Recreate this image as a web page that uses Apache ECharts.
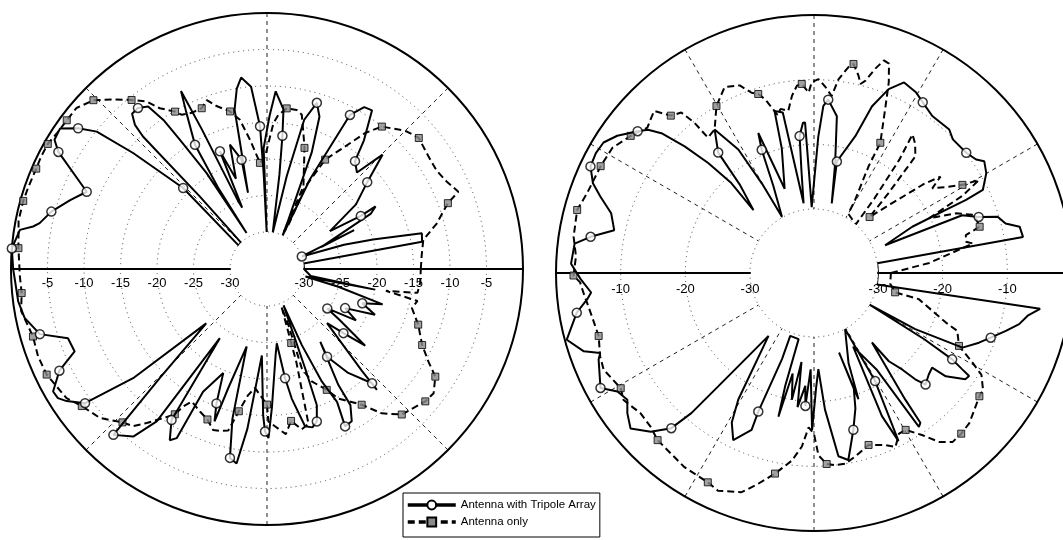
<!DOCTYPE html>
<html>
<head>
<meta charset="utf-8">
<script src="https://cdn.jsdelivr.net/npm/echarts@6/dist/echarts.min.js"></script>
<style>html,body{margin:0;padding:0;background:#fff}#c{width:1063px;height:540px}</style>
</head>
<body>
<div id="c"></div>
<script>
// Each point: [angle (deg, CCW from east), level dB, marker flag]
const leftTri = [[0,-30],[8.5,-30],[10,-13.5],[13,-13.3],[15.5,-20],[17.5,-24],[19.8,-30,1],[24,-22],[22,-27],[28,-19],[30,-17.9],[29.5,-20.3,1],[31,-25],[36,-20],[40.9,-16.9,1],[44.7,-12.8],[47,-17],[50.8,-16,1],[53,-13],[56.5,-9],[59,-9.2],[61.7,-11.1,1],[64.4,-21.4],[65,-30],[66.5,-27.7],[69,-18],[71,-13],[73.3,-11.3,1],[76,-14],[78,-22],[81,-30],[82.5,-22],[83.4,-16.7,1],[84.1,-13.1],[87.2,-10.7],[89,-14],[91.6,-18.5],[90.5,-30],[92,-22],[92.8,-15.5,1],[95,-10],[97.7,-8.6],[99.5,-10],[101.5,-12.8],[102,-17],[104,-24.3],[103.1,-19.7,1],[106.6,-17.3],[109,-22],[111.8,-17.7,1],[112,-26],[113,-25],[115,-14],[115.8,-8],[117.3,-11],[120.1,-15.4,1],[121,-22],[119.6,-29.4],[122.2,-19.5],[124,-13.7],[124.8,-10.2],[126.2,-7.5],[128.7,-6.8,1],[131,-6.9],[132.5,-8.3],[133.1,-10.2],[132.8,-21.5],[134.6,-30],[140.4,-30],[136,-19.1,1],[139.1,-10.8],[141.1,-5.1],[143.3,-2.8,1],[145.8,-0.8],[148.7,-1],[150.7,-2.3,1],[156.8,-8.2,1],[160.7,-6.5],[165.1,-4.5,1],[168.6,-3.3],[169.7,-2.5],[171,-0.8],[175.4,0,1],[180,-0.3],[187.4,-0.7],[191.4,-1.2],[196,-2.7,1],[199.2,-6.2],[203.2,-6.4],[206.1,-3.4,1],[209.8,-1.3],[211.7,-1.4],[213.4,-2.2],[216.4,-4.1,1],[219.2,-11.4],[221.8,-23.9],[225.5,-14.1],[227.2,-4.1,1],[231.4,-5.7],[234.1,-9.3],[235.7,-23.6],[237.7,-10.6,1],[240.4,-8.1],[241.9,-8.8],[242.5,-16.1],[247.2,-19.6],[249.4,-15.4,1],[251,-13],[252,-18],[255.3,-24.1],[257,-14],[258.9,-8.7,1],[261.1,-8.1],[263,-13],[266.6,-23.2],[268.5,-15],[269.3,-12.8,1],[270.5,-11.9],[272,-16],[275.7,-23.2],[277.5,-24.8],[279.4,-19.9,1],[280.8,-17],[283.6,-12.9],[286,-12.5],[288.1,-13.1,1],[290.1,-15.2],[291,-20.5],[294.5,-29.6],[294.6,-23.6],[296,-17.9],[297.8,-14.5],[296.4,-11,1],[299.1,-11.2],[301.5,-13.2],[301.6,-16.4],[306.2,-22.7],[304.4,-20.5,1],[308,-17],[312.6,-13.8,1],[312.3,-12.7],[313,-16],[318,-24],[320,-21.4,1],[322,-18],[325,-23],[326.8,-25.2,1],[330,-21],[333.4,-23.1,1],[337,-19],[340.2,-21.2,1],[343,-18.5],[346,-25],[349,-29.7],[349.2,-20],[351,-29],[360,-30]];

const leftOnly = [[0,-14],[5,-13.8],[10.5,-13.3],[15,-11],[20,-8.7,1],[22,-6.8],[26,-7.7],[30,-8.2],[35,-8.1],[40.8,-7.6,1],[44.5,-8.2],[46.3,-8.7],[51.1,-10,1],[54.2,-12.1],[57.5,-15.2],[62,-18.1,1],[65,-22.6],[64,-28.5],[65.5,-29.5],[66.2,-22.7],[72.8,-17.7,1],[75,-15.8],[77.3,-13.4],[79.4,-12.9],[83,-12.9,1],[85.8,-13.9],[87.5,-15.1],[91,-19.7],[93.8,-20.5,1],[97.5,-17.2],[100.3,-14.3],[103.2,-12.9,1],[107.2,-11.7],[109.6,-10.5],[112.1,-11.3,1],[116,-11.3],[119,-10.9],[120.3,-10.1,1],[123.7,-8.6],[125.7,-6.8],[128.7,-5.4,1],[132.2,-3.7],[135.8,-1.9,1],[139.8,-0.9],[143.4,-0.9,1],[147.2,-0.8],[150.3,-0.5,1],[153.7,-0.5],[156.5,-0.6,1],[161.1,-0.5],[164.4,-0.4,1],[169,-0.4],[175.2,-0.9,1],[181.7,-1.2],[185.6,-1.3,1],[189.7,-0.9],[196.1,-1.7,1],[200.9,-1.5],[205.6,-1.6,1],[208.6,-2],[212.8,-2.4],[216.5,-3.5,1],[221.7,-4.4],[226.7,-6.2,1],[229.6,-6.8],[232,-8.3],[235.2,-10.2],[237.6,-11.5,1],[238.6,-13],[240.4,-14.2],[244.8,-13.5],[248.4,-12.9,1],[251.5,-11.8],[254,-12],[256.5,-12.3],[258.8,-15.2,1],[261.5,-17.6],[264.2,-18.7],[270,-16.5,1],[270.5,-14.2],[272.9,-13.5],[276.5,-12.3],[279,-14,1],[282.2,-12.6],[285,-13.1],[287.5,-21.7],[288.1,-24.4,1],[291,-29.5],[290.9,-26.8],[289.3,-20.6],[291.7,-18.5],[296.3,-16.6,1],[298.9,-14.8],[301.6,-13.8],[304.9,-12.4,1],[308.5,-9.8],[312.8,-7.9,1],[320.1,-6.8,1],[323.3,-6.6],[327.4,-7.7,1],[330.2,-9.6],[333.9,-11.4,1],[339.8,-13,1],[344.9,-14.5],[348,-14],[349.6,-18.5],[351,-14.2],[355,-14],[360,-14]];

const rightTri = [[0,-30],[8.7,-30],[9.8,-7.1],[12.7,-7.3],[14.5,-9.3],[17,-10.2],[18.8,-13,1],[21.3,-15.3],[21.3,-28.1],[25.2,-23.1],[25.6,-17.3],[25.7,-13.8],[26.2,-10.8],[30.1,-9.1],[33.3,-8.4],[35,-9.3],[38.3,-9.9,1],[43.9,-10.1],[46.7,-9.4],[53,-9.5],[57.5,-8.6,1],[60.6,-7.8],[64.7,-7.3],[67.9,-9.2],[70.8,-12.6],[73.2,-17.8],[78.4,-22.3,1],[75.7,-28.8],[79.1,-22.6],[81.7,-15.4],[85.3,-13,1],[86.8,-14],[88.2,-18.8],[92,-29.7],[93.4,-16.6],[94.2,-16.6],[96,-18.6,1],[97,-24],[98.5,-29],[101,-14.6],[103.7,-14.1],[104.5,-20],[109.2,-26.1],[111.7,-16.6],[113,-19.2,1],[115,-25],[119.7,-29.9],[120.2,-23.9],[121.5,-17.5],[124.7,-12.9],[128.5,-16.1,1],[130,-22],[133.9,-26.4],[132.6,-21],[133.9,-16.3],[135.6,-11.9],[137.5,-7.9],[139.2,-6],[141.2,-4.9,1],[145.1,-2.8],[148.2,-1.6],[151.2,-1.4],[154.5,-1.6,1],[157.9,-3],[160.3,-4.8],[163.6,-7.2],[167.9,-8.3],[170.8,-4.9,1],[173,-2.6],[177.8,-2.3],[181.5,-3.8],[185,-5.3],[186.6,-4.6],[189.5,-2.7,1],[195.1,-0.3],[198.8,-2.3],[200.5,-4.6],[201.9,-4],[208.3,-2.4,1],[211.1,-4.4],[214.2,-5],[216.9,-3.8],[220.3,-2.7],[224.2,-4.7],[227.4,-7.3,1],[228.8,-11.1],[229.8,-17],[234.1,-27.9],[239.1,-17.1],[241.2,-13.5],[244.2,-11.2],[248.3,-13.8],[248.1,-16.8,1],[249.6,-25.7],[249.3,-29.5],[256.9,-29.4],[255.7,-21.9],[256.1,-17],[258,-24],[260.1,-20],[262,-26],[263,-19],[265.6,-22.4],[266.3,-19.3,1],[268,-25],[269.3,-15.6],[271,-22],[272.6,-25],[274.6,-18.7],[277.6,-11.3],[280.4,-10.5],[284.1,-14.9,1],[287,-18],[289,-21],[287.5,-27],[289.4,-19.2],[291,-25],[299,-30],[299.5,-20.7,1],[296.7,-10.8],[295.4,-15.4],[298,-27],[303,-22],[304.3,-11.1],[305.4,-11.5],[305.8,-15.8],[309.8,-25.9],[310.3,-22],[312.4,-19.7],[313.6,-17.2],[315,-15.5,1],[318.5,-16.2],[321.3,-16.5],[321.9,-14],[324.9,-11.3],[326.4,-11.1],[327,-12.6],[328,-14.7,1],[329,-20],[330.3,-30],[331,-22],[333.3,-14.2],[337.1,-12.2],[339.9,-10.8,1],[343.2,-8.9],[346,-7.2],[348.7,-6.2],[351,-4.5],[349.7,-30],[360,-30]];

const rightOnly = [[0,-28],[5,-22],[10.5,-14.9],[11.6,-15.9],[14,-15.7],[15.6,-13.3,1],[19.9,-13.5],[22.8,-16.1],[25.4,-20.2],[27.5,-14],[29.4,-10.6],[30.7,-13.2,1],[33,-15.5],[35.6,-17.4],[37.3,-15.3],[39,-18],[42,-24],[45.2,-27.7,1],[47,-23],[49,-16],[52,-14.5],[54.6,-13.6],[53,-18],[51,-25],[49.3,-30],[60,-29.3],[60.6,-27],[62.9,-21.4],[63,-17.3,1],[66.8,-11.8],[68.6,-8.2],[70.3,-5.5],[71.8,-5.3],[73.3,-6.9],[75,-9.1],[76.2,-9.8],[77.3,-8.6],[79.3,-7,1],[80.5,-7.6],[82.8,-9.7],[84.3,-12.4],[86.6,-11],[88.7,-9.9],[90.7,-10.4],[91.7,-12],[93.7,-10.6,1],[95.2,-10.8],[97.1,-12.3],[99,-14.5],[101.5,-14],[103,-14.8],[105.7,-12],[107.3,-10.9,1],[109.1,-10.4],[111.6,-8.7],[115.7,-8],[120.3,-10,1],[124.7,-12.9],[128.1,-13.3],[128.5,-10.2],[129.6,-7.7],[132.3,-7,1],[134.6,-4.7],[136.7,-5.2],[138.9,-5.7],[143.2,-4.5,1],[148.2,-3.2],[153.4,-3,1],[160.6,-2.7],[165.1,-2,1],[171.4,-2.3],[176,-3],[180.6,-2.7,1],[182.3,-3.7],[184.8,-4.1],[191,-4.9],[196.3,-5.2,1],[201.3,-4.4],[204.7,-4.1],[210.8,-5.1,1],[213.7,-4.5],[219,-5.4],[223.3,-5.2],[226.9,-4.5,1],[236.3,-3.8],[243.1,-3.6,1],[246.2,-3.1],[251.7,-4.2],[254.7,-5.9],[259,-8.3,1],[263.3,-10.7],[266,-13],[268,-16],[270,-15],[271.4,-11.7],[273.8,-10.3,1],[276.3,-10],[279.3,-10],[282.6,-10.8],[287.6,-12,1],[292.5,-11.1],[295.1,-10.2],[297.9,-11.8],[300.3,-11.8,1],[303.8,-9.7],[306.5,-7.4],[309.4,-6.1],[312.5,-6.2,1],[316,-6.5],[319.5,-7.3],[323.3,-8,1],[325.3,-8.1],[328.7,-9.6],[330.5,-11.7],[333.3,-14.8,1],[338,-16],[339.4,-18.1],[346,-23.2],[346.6,-27,1],[352,-28],[360,-28]];

const leftTicks = [-30, -25, -20, -15, -10, -5, 0];
const rightTicks = [-30, -20, -10, 0];
const names = ['Antenna with Tripole Array', 'Antenna only'];

const chart = echarts.init(document.getElementById('c'), null, {renderer: 'canvas'});
const FONT = 'Liberation Sans, Arial, sans-serif';
const LC = [267, 269], LR = [37, 256];
const RC = [814, 273], RR = [64, 258];

function toVal(pts){ return pts.map(p => [p[1], p[0]]); }
function marks(pts){ return pts.filter(p => p[2]).map(p => [p[1], p[0]]); }

function angleAx(idx, start, interval, spokes, ring){
  return {polarIndex: idx, type: 'value', min: 0, max: 360, interval: interval,
    startAngle: start, clockwise: false,
    axisLine: {show: ring, lineStyle: {color: '#000', width: 2}},
    axisTick: {show: false}, axisLabel: {show: false},
    splitLine: {show: spokes, lineStyle: {color: '#222', width: 1, type: [4, 4]}}};
}
function radiusAx(idx, ticks, grid, margin, show){
  return {polarIndex: idx, type: 'value', min: ticks[0], max: ticks[ticks.length-1],
    interval: ticks[1]-ticks[0], show: show,
    axisLine: {show: show, lineStyle: {color: '#000', width: 2}},
    axisTick: {show: false},
    axisLabel: {show: show, color: '#000', fontSize: 13, fontFamily: FONT, margin: margin,
      formatter: v => (v === 0 ? '' : String(v))},
    splitLine: {show: grid, lineStyle: {color: '#444', width: 1, type: [1, 4]}}};
}

const lineStyleTri = {color: '#000', width: 2};
const lineStyleOnly = {color: '#000', width: 2, type: [7, 4]};

function seriesFor(idx, tri, only){
  return [
    {name: names[1], type: 'line', coordinateSystem: 'polar', polarIndex: idx,
      data: toVal(only), symbol: 'rect', symbolSize: 7, showSymbol: false,
      lineStyle: lineStyleOnly, itemStyle: {color: '#8a8a8a', borderColor: '#000', borderWidth: 1},
      z: 3, silent: true},
    {name: names[1], type: 'scatter', coordinateSystem: 'polar', polarIndex: idx,
      data: marks(only), symbol: 'rect', symbolSize: 7,
      itemStyle: {color: '#8a8a8a', borderColor: '#000', borderWidth: 1}, z: 4, silent: true},
    {name: names[0], type: 'line', coordinateSystem: 'polar', polarIndex: idx,
      data: toVal(tri), symbol: 'circle', symbolSize: 9, showSymbol: false,
      lineStyle: lineStyleTri, itemStyle: {color: '#fff', borderColor: '#000', borderWidth: 1.5},
      z: 5, silent: true},
    {name: names[0], type: 'scatter', coordinateSystem: 'polar', polarIndex: idx,
      data: marks(tri), symbol: 'circle', symbolSize: 9,
      itemStyle: {color: '#fff', borderColor: '#000', borderWidth: 1.5}, z: 6, silent: true}
  ];
}

chart.setOption({
  animation: false,
  backgroundColor: '#fff',
  polar: [
    {center: LC, radius: LR},
    {center: RC, radius: RR},
    {center: LC, radius: LR},
    {center: RC, radius: RR},
    {center: LC, radius: [0, LR[1]]},
    {center: RC, radius: [0, RR[1]]}
  ],
  angleAxis: [
    angleAx(0, 0, 45, true, false),
    angleAx(1, 0, 30, true, false),
    angleAx(2, 180, 45, false, false),
    angleAx(3, 180, 30, false, false),
    angleAx(4, 0, 45, false, true),
    angleAx(5, 0, 30, false, true)
  ],
  radiusAxis: [
    radiusAx(0, leftTicks, true, -21, true),
    radiusAx(1, rightTicks, true, -23, true),
    radiusAx(2, leftTicks, false, 8, true),
    radiusAx(3, rightTicks, false, 10, true),
    radiusAx(4, leftTicks, false, 8, false),
    radiusAx(5, rightTicks, false, 8, false)
  ],
  legend: {
    data: names, orient: 'vertical', left: 403, top: 493,
    itemWidth: 48, itemHeight: 11, itemGap: 5,
    padding: [6, 4, 9, 3],
    borderColor: '#000', borderWidth: 1, backgroundColor: '#fff', borderRadius: 0,
    lineStyle: {width: 3.5},
    textStyle: {color: '#000', fontSize: 11.5, fontFamily: FONT},
    z: 20
  },
  series: [].concat(seriesFor(0, leftTri, leftOnly), seriesFor(1, rightTri, rightOnly))
});
</script>
</body>
</html>
